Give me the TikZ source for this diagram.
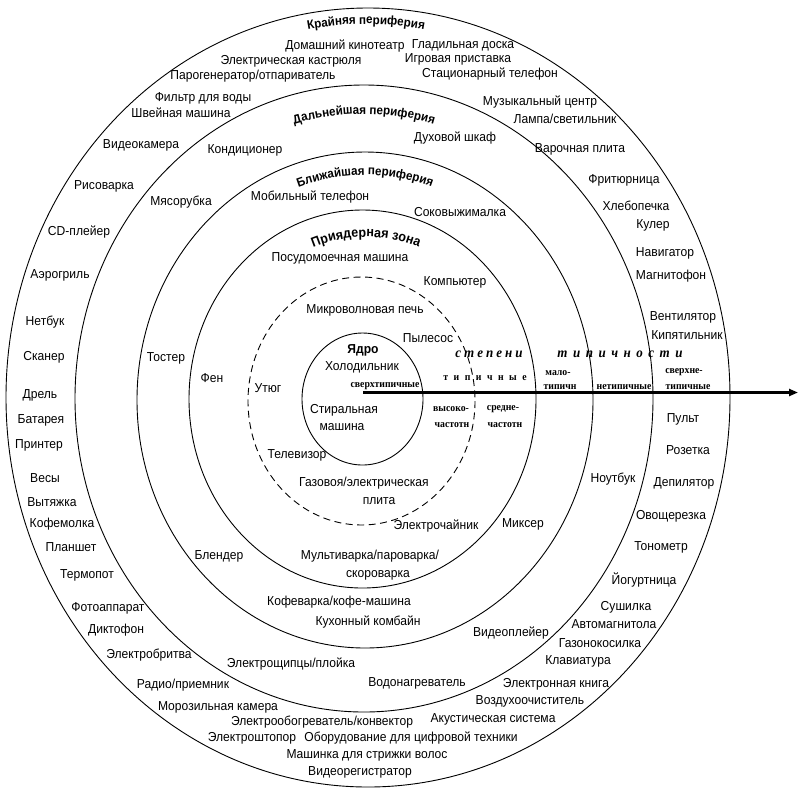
\documentclass[tikz,border=0pt]{standalone}
\usepackage{fontspec}
\setmainfont{Liberation Sans}[FakeStretch=0.93]
\newfontfamily\serifb{Liberation Serif}[FakeStretch=0.93]
\usetikzlibrary{decorations.text,arrows.meta}
\newcommand\lsp{\hspace{3pt}}
\newcommand\lspw{\hspace{5.5pt}}
\newcommand\lspt{\hspace{5.5pt}}
\tikzset{
  ring/.style={draw=black, line width=0.9pt},
  dring/.style={ring, dash pattern=on 7pt off 4.5pt},
  lbl/.style={inner sep=0pt, font=\fontsize{13}{14}\selectfont},
  tag/.style={inner sep=0pt, font=\serifb\bfseries\fontsize{10.5}{11}\selectfont},
  axtitle/.style={inner sep=0pt, font=\serifb\bfseries\itshape\fontsize{14}{15}\selectfont},
  core/.style={inner sep=0pt, font=\bfseries\fontsize{13}{14}\selectfont},
  axisline/.style={line width=2.2pt, -{Triangle[length=9pt,width=7pt]}},
}
\begin{document}
\begin{tikzpicture}[x=1pt,y=-1pt]
\useasboundingbox (0,0) rectangle (799,788);
% rings
\draw[ring] (368,397.5) ellipse [x radius=362, y radius=389.5];
\draw[ring] (364,398.5) ellipse [x radius=289, y radius=313.5];
\draw[ring] (365,400) ellipse [x radius=228, y radius=248];
\draw[ring] (362.5,399) ellipse [x radius=173.5, y radius=189];
\draw[dring] (361.5,401) ellipse [x radius=113.5, y radius=124];
\draw[ring] (362.5,399) ellipse [x radius=60.5, y radius=66];
% curved titles
\path[shift={(366,399)}, decorate, decoration={text along path, text align=center, text={|\bfseries\fontsize{12.5}{14}\selectfont|Крайняя периферия}}]
  (215:348 and 375) arc[start angle=215, end angle=325, x radius=348, y radius=375];
\path[shift={(364,399)}, decorate, decoration={text along path, text align=center, text={|\bfseries\fontsize{12.5}{14}\selectfont|Дальнейшая периферия}}]
  (215:263 and 285) arc[start angle=215, end angle=325, x radius=263, y radius=285];
\path[shift={(365,399)}, decorate, decoration={text along path, text align=center, text={|\bfseries\fontsize{12.5}{14}\selectfont|Ближайшая периферия}}]
  (205:206 and 224) arc[start angle=205, end angle=335, x radius=206, y radius=224];
\path[shift={(366,399)}, decorate, decoration={text along path, text align=center, text={|\bfseries\fontsize{13.5}{15}\selectfont|Приядерная зона}}]
  (200:150 and 162) arc[start angle=200, end angle=340, x radius=150, y radius=162];
% outer ring labels
\node[lbl] (kino) at (345,46) {Домашний кинотеатр};
\node[lbl] (glad) at (463,45) {Гладильная доска};
\node[lbl] (igr) at (458,59) {Игровая приставка};
\node[lbl] (kastr) at (291,61) {Электрическая кастрюля};
\node[lbl] (parog) at (253,76) {Парогенератор/отпариватель};
\node[lbl] (stac) at (490,74) {Стационарный телефон};
\node[lbl] (filtr) at (203,98) {Фильтр для воды};
\node[lbl] (shv) at (181,113) {Швейная машина};
\node[lbl] (muz) at (540,102) {Музыкальный центр};
\node[lbl] (lamp) at (565,119) {Лампа/светильник};
\node[lbl] (vcam) at (141,145) {Видеокамера};
\node[lbl] (var) at (580,149) {Варочная плита};
\node[lbl] (ris) at (104,186) {Рисоварка};
\node[lbl] (frit) at (624,180) {Фритюрница};
\node[lbl] (hleb) at (636,206) {Хлебопечка};
\node[lbl] (kuler) at (653,225) {Кулер};
\node[lbl] (cd) at (79,232) {CD-плейер};
\node[lbl] (nav) at (665,253) {Навигатор};
\node[lbl] (magn) at (671,276) {Магнитофон};
\node[lbl] (aero) at (60,275) {Аэрогриль};
\node[lbl] (vent) at (683,317) {Вентилятор};
\node[lbl] (kip) at (687,335) {Кипятильник};
\node[lbl] (net) at (45,322) {Нетбук};
\node[lbl] (skan) at (44,357) {Сканер};
\node[lbl] (drel) at (40,395) {Дрель};
\node[lbl] (bat) at (41,420) {Батарея};
\node[lbl] (print) at (39,445) {Принтер};
\node[lbl] (vesy) at (45,478) {Весы};
\node[lbl] (vyt) at (52,502) {Вытяжка};
\node[lbl] (kofem) at (62,524) {Кофемолка};
\node[lbl] (plan) at (71,547) {Планшет};
\node[lbl] (termo) at (87,575) {Термопот};
\node[lbl] (foto) at (108,608) {Фотоаппарат};
\node[lbl] (dikt) at (116,630) {Диктофон};
\node[lbl] (brit) at (149,655) {Электробритва};
\node[lbl] (radio) at (183,685) {Радио/приемник};
\node[lbl] (moroz) at (218,707) {Морозильная камера};
\node[lbl] (obogr) at (322,722) {Электрообогреватель/конвектор};
\node[lbl] (shtop) at (252,738) {Электроштопор};
\node[lbl] (obor) at (411,738) {Оборудование для цифровой техники};
\node[lbl] (strij) at (367,755) {Машинка для стрижки волос};
\node[lbl] (vreg) at (360,772) {Видеорегистратор};
\node[lbl] (akust) at (493,719) {Акустическая система};
\node[lbl] (vozd) at (530,701) {Воздухоочиститель};
\node[lbl] (ekn) at (556,684) {Электронная книга};
\node[lbl] (klav) at (578,661) {Клавиатура};
\node[lbl] (gazon) at (600,643) {Газонокосилка};
\node[lbl] (avto) at (614,624) {Автомагнитола};
\node[lbl] (sush) at (626,607) {Сушилка};
\node[lbl] (yog) at (644,580) {Йогуртница};
\node[lbl] (tono) at (661,547) {Тонометр};
\node[lbl] (ovosh) at (671,516) {Овощерезка};
\node[lbl] (depil) at (684,483) {Депилятор};
\node[lbl] (roz) at (688,450) {Розетка};
\node[lbl] (pult) at (683,419) {Пульт};
% far periphery
\node[lbl] (duh) at (455,138) {Духовой шкаф};
\node[lbl] (kond) at (245,150) {Кондиционер};
\node[lbl] (myas) at (181,202) {Мясорубка};
\node[lbl] (tost) at (166,358) {Тостер};
\node[lbl] (blend) at (219,556) {Блендер};
\node[lbl] (vplay) at (511,633) {Видеоплейер};
\node[lbl] (vodon) at (417,683) {Водонагреватель};
\node[lbl] (shipc) at (291,664) {Электрощипцы/плойка};
\node[lbl] (nout) at (613,479) {Ноутбук};
% near periphery
\node[lbl] (mob) at (310,197) {Мобильный телефон};
\node[lbl] (sok) at (460,212) {Соковыжималка};
\node[lbl] (fen) at (212,378) {Фен};
\node[lbl] (mix) at (523,524) {Миксер};
\node[lbl] (kofev) at (339,602) {Кофеварка/кофе-машина};
\node[lbl] (komb) at (368,622) {Кухонный комбайн};
% near-core zone
\node[lbl] (posud) at (340,258) {Посудомоечная машина};
\node[lbl] (komp) at (455,282) {Компьютер};
\node[lbl] (chain) at (436,526) {Электрочайник};
\node[lbl] (multi) at (370,556) {Мультиварка/пароварка/};
\node[lbl] (skor) at (378,575) {скороварка};
% dashed zone
\node[lbl] (micro) at (365,310) {Микроволновая печь};
\node[lbl] (pyl) at (428,338) {Пылесос};
\node[lbl] (utyug) at (268,388) {Утюг};
\node[lbl] (tv) at (297,455) {Телевизор};
\node[lbl] (gaz) at (364,483) {Газовоя/электрическая};
\node[lbl] (plita) at (379,501) {плита};
% core
\node[core] (yadro) at (363,350) {Ядро};
\node[lbl] (hol) at (362,367) {Холодильник};
\node[lbl] (stir) at (344,410) {Стиральная};
\node[lbl] (mash) at (342,427) {машина};
% axis
\coordinate (axstart) at (363,392.5);
\coordinate (axend) at (798,392.5);
\draw[axisline] (axstart) -- (axend);
\node[axtitle] (st1) at (489,354) {с\lsp т\lsp е\lsp п\lsp е\lsp н\lsp и};
\node[axtitle] (st2) at (620,354) {т\lspw и\lspw п\lspw и\lspw ч\lspw н\lspw о\lspw с\lspw т\lspw и};
\node[tag] (t1) at (385,386) {сверхтипичные};
\node[tag] (t2) at (485,378) {т\lspt и\lspt п\lspt и\lspt ч\lspt н\lspt ы\lspt е};
\node[tag] (t3) at (558,373) {мало-};
\node[tag] (t4) at (560,387) {типичн};
\node[tag] (t5) at (624,387) {нетипичные};
\node[tag] (t6) at (684,372) {сверхне-};
\node[tag] (t7) at (688,387) {типичные};
\node[tag] (t8) at (451,409) {высоко-};
\node[tag] (t9) at (452,425) {частотн};
\node[tag] (t10) at (503,409) {средне-};
\node[tag] (t11) at (505,425) {частотн};
\end{tikzpicture}
\end{document}
